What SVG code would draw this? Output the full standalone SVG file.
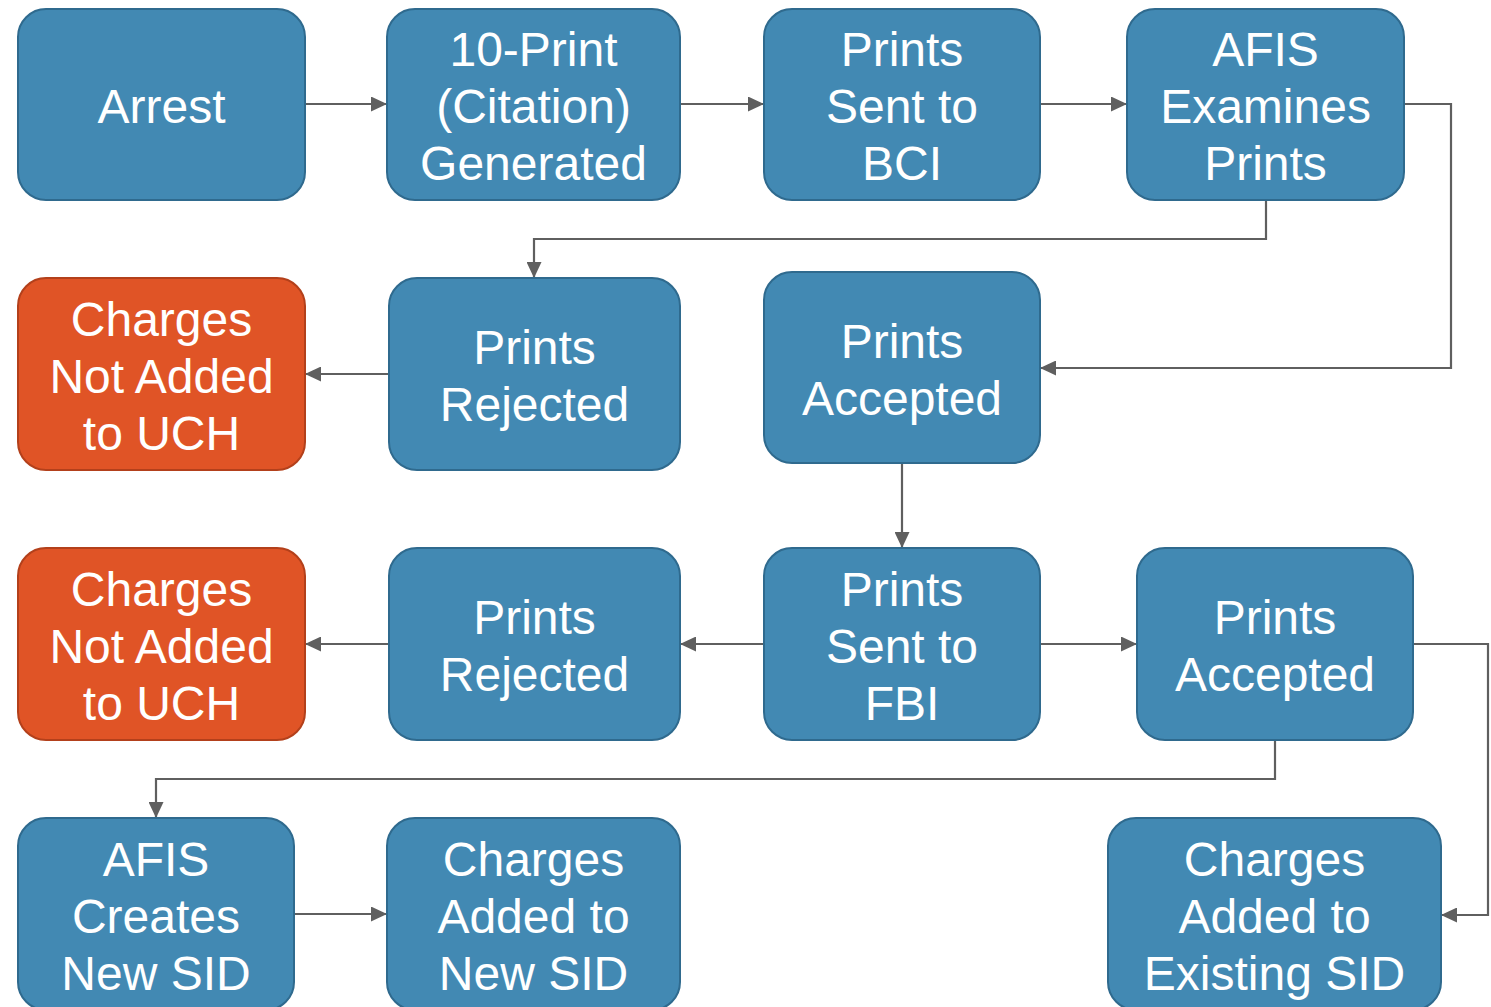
<svg xmlns="http://www.w3.org/2000/svg" width="1491" height="1007" viewBox="0 0 1491 1007">
<defs>
<marker id="arr" markerUnits="userSpaceOnUse" markerWidth="16" markerHeight="15" refX="16" refY="7.5" orient="auto">
<path d="M0,0 L16,7.5 L0,15 Z" fill="#5f5f5f"/>
</marker>
<style>
.b{fill:#4289b3;stroke:#2f6a8e;stroke-width:2}
.o{fill:#e05426;stroke:#b3401b;stroke-width:2}
.t{fill:#ffffff;font-family:"Liberation Sans",Arial,sans-serif;font-size:48px;text-anchor:middle}
.c{fill:none;stroke:#5f5f5f;stroke-width:2.2;marker-end:url(#arr)}
</style>
</defs>
<rect width="1491" height="1007" fill="#ffffff"/>
<g id="connectors">
<path class="c" d="M305,104 H387"/>
<path class="c" d="M680,104 H764"/>
<path class="c" d="M1040,104 H1127"/>
<path class="c" d="M1266,200 V239 H534 V278"/>
<path class="c" d="M1404,104 H1451 V368 H1040"/>
<path class="c" d="M389,374 H305"/>
<path class="c" d="M902,463 V548"/>
<path class="c" d="M764,644 H680"/>
<path class="c" d="M389,644 H305"/>
<path class="c" d="M1040,644 H1137"/>
<path class="c" d="M1275,740 V779 H156 V818"/>
<path class="c" d="M1413,644 H1488 V915 H1441"/>
<path class="c" d="M294,914 H387"/>
</g>
<g id="arrest">
<rect class="b" x="18" y="9" width="287" height="191" rx="28"/>
<text class="t" x="161.5" y="123">Arrest</text>
</g>
<g id="tenprint">
<rect class="b" x="387" y="9" width="293" height="191" rx="28"/>
<text class="t" x="533.5" y="66">10-Print</text>
<text class="t" x="533.5" y="123">(Citation)</text>
<text class="t" x="533.5" y="180">Generated</text>
</g>
<g id="sent-bci">
<rect class="b" x="764" y="9" width="276" height="191" rx="28"/>
<text class="t" x="902" y="66">Prints</text>
<text class="t" x="902" y="123">Sent to</text>
<text class="t" x="902" y="180">BCI</text>
</g>
<g id="afis-examines">
<rect class="b" x="1127" y="9" width="277" height="191" rx="28"/>
<text class="t" x="1265.5" y="66">AFIS</text>
<text class="t" x="1265.5" y="123">Examines</text>
<text class="t" x="1265.5" y="180">Prints</text>
</g>
<g id="not-added-1">
<rect class="o" x="18" y="278" width="287" height="192" rx="28"/>
<text class="t" x="161.5" y="336">Charges</text>
<text class="t" x="161.5" y="393">Not Added</text>
<text class="t" x="161.5" y="450">to UCH</text>
</g>
<g id="rejected-1">
<rect class="b" x="389" y="278" width="291" height="192" rx="28"/>
<text class="t" x="534.5" y="364">Prints</text>
<text class="t" x="534.5" y="421">Rejected</text>
</g>
<g id="accepted-1">
<rect class="b" x="764" y="272" width="276" height="191" rx="28"/>
<text class="t" x="902" y="358">Prints</text>
<text class="t" x="902" y="415">Accepted</text>
</g>
<g id="not-added-2">
<rect class="o" x="18" y="548" width="287" height="192" rx="28"/>
<text class="t" x="161.5" y="606">Charges</text>
<text class="t" x="161.5" y="663">Not Added</text>
<text class="t" x="161.5" y="720">to UCH</text>
</g>
<g id="rejected-2">
<rect class="b" x="389" y="548" width="291" height="192" rx="28"/>
<text class="t" x="534.5" y="634">Prints</text>
<text class="t" x="534.5" y="691">Rejected</text>
</g>
<g id="sent-fbi">
<rect class="b" x="764" y="548" width="276" height="192" rx="28"/>
<text class="t" x="902" y="606">Prints</text>
<text class="t" x="902" y="663">Sent to</text>
<text class="t" x="902" y="720">FBI</text>
</g>
<g id="accepted-2">
<rect class="b" x="1137" y="548" width="276" height="192" rx="28"/>
<text class="t" x="1275" y="634">Prints</text>
<text class="t" x="1275" y="691">Accepted</text>
</g>
<g id="afis-creates">
<rect class="b" x="18" y="818" width="276" height="192" rx="28"/>
<text class="t" x="156" y="876">AFIS</text>
<text class="t" x="156" y="933">Creates</text>
<text class="t" x="156" y="990">New SID</text>
</g>
<g id="added-new">
<rect class="b" x="387" y="818" width="293" height="192" rx="28"/>
<text class="t" x="533.5" y="876">Charges</text>
<text class="t" x="533.5" y="933">Added to</text>
<text class="t" x="533.5" y="990">New SID</text>
</g>
<g id="added-existing">
<rect class="b" x="1108" y="818" width="333" height="192" rx="28"/>
<text class="t" x="1274.5" y="876">Charges</text>
<text class="t" x="1274.5" y="933">Added to</text>
<text class="t" x="1274.5" y="990">Existing SID</text>
</g>
</svg>
